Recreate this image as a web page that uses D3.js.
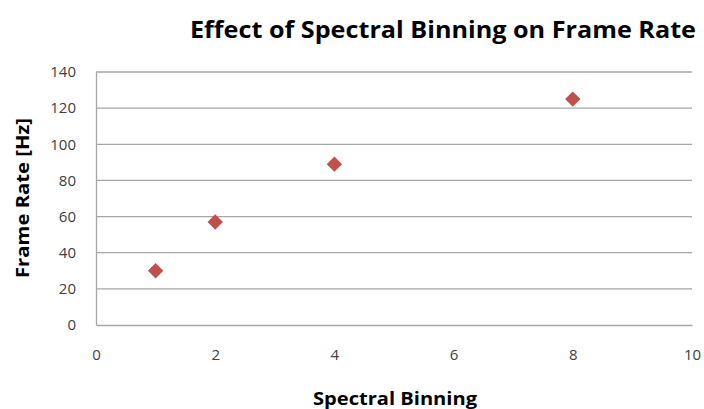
<!DOCTYPE html>
<html>
<head>
<meta charset="utf-8">
<script src="https://cdn.jsdelivr.net/npm/d3@7"></script>
<style>
  body { margin: 0; background: #fff; }
  svg { display: block; }
</style>
</head>
<body>
<svg id="chart" width="704" height="409"></svg>
<script>
// data
const binning = [1, 2, 4, 8];
const frameRate = [30, 57, 89, 125];
const xTicks = [0, 2, 4, 6, 8, 10];
const yTicks = [0, 20, 40, 60, 80, 100, 120, 140];

const width = 704, height = 409;
const margin = { top: 72, right: 12, bottom: 84, left: 96 };
const innerW = width - margin.left - margin.right;
const innerH = height - margin.top - margin.bottom;

const font = "'Open Sans', 'DejaVu Sans', sans-serif";

const svg = d3.select('#chart');

const x = d3.scaleLinear().domain([0, 10]).range([0, innerW]);
const y = d3.scaleLinear().domain([0, 140]).range([innerH, 0]);

const g = svg.append('g')
  .attr('transform', `translate(${margin.left},${margin.top})`);

// horizontal gridlines
g.selectAll('.grid').data(yTicks.filter(d => d > 0)).join('line')
  .attr('class', 'grid')
  .attr('x1', 0).attr('x2', innerW)
  .attr('y1', d => y(d)).attr('y2', d => y(d))
  .attr('stroke', '#a6a6a6')
  .attr('stroke-width', 1.3);

// y axis
const yAxis = g.append('g')
  .call(d3.axisLeft(y).tickValues(yTicks).tickSize(0).tickPadding(20));
yAxis.select('.domain').attr('stroke', '#a6a6a6').attr('stroke-width', 1.3);
yAxis.selectAll('text')
  .attr('font-family', font).attr('font-size', 15).attr('fill', '#404040');

// x axis
const xAxis = g.append('g')
  .attr('transform', `translate(0,${innerH})`)
  .call(d3.axisBottom(x).tickValues(xTicks).tickSize(0).tickPadding(24));
xAxis.select('.domain').attr('stroke', '#a6a6a6').attr('stroke-width', 1.3);
xAxis.selectAll('text')
  .attr('font-family', font).attr('font-size', 15).attr('fill', '#404040');

// points
const pts = binning.map((b, i) => ({ b: b, r: frameRate[i] }));
g.selectAll('.pt').data(pts).join('path')
  .attr('class', 'pt')
  .attr('transform', d => `translate(${x(d.b)},${y(d.r)})`)
  .attr('d', d3.symbol().type(d3.symbolDiamond2).size(150))
  .attr('fill', '#c0504d');

// titles
svg.append('text')
  .attr('x', 443).attr('y', 38)
  .attr('text-anchor', 'middle')
  .attr('font-family', font).attr('font-weight', 'bold')
  .attr('font-size', 23).attr('fill', '#000')
  .attr('textLength', 506).attr('lengthAdjust', 'spacingAndGlyphs')
  .text('Effect of Spectral Binning on Frame Rate');

svg.append('text')
  .attr('x', margin.left + innerW / 2 + 1).attr('y', 405)
  .attr('text-anchor', 'middle')
  .attr('font-family', font).attr('font-weight', 'bold')
  .attr('font-size', 18).attr('fill', '#000')
  .attr('textLength', 164).attr('lengthAdjust', 'spacingAndGlyphs')
  .text('Spectral Binning');

svg.append('text')
  .attr('transform', 'translate(29,198) rotate(-90)')
  .attr('text-anchor', 'middle')
  .attr('font-family', font).attr('font-weight', 'bold')
  .attr('font-size', 18).attr('fill', '#000')
  .attr('textLength', 160).attr('lengthAdjust', 'spacingAndGlyphs')
  .text('Frame Rate [Hz]');
</script>
</body>
</html>
